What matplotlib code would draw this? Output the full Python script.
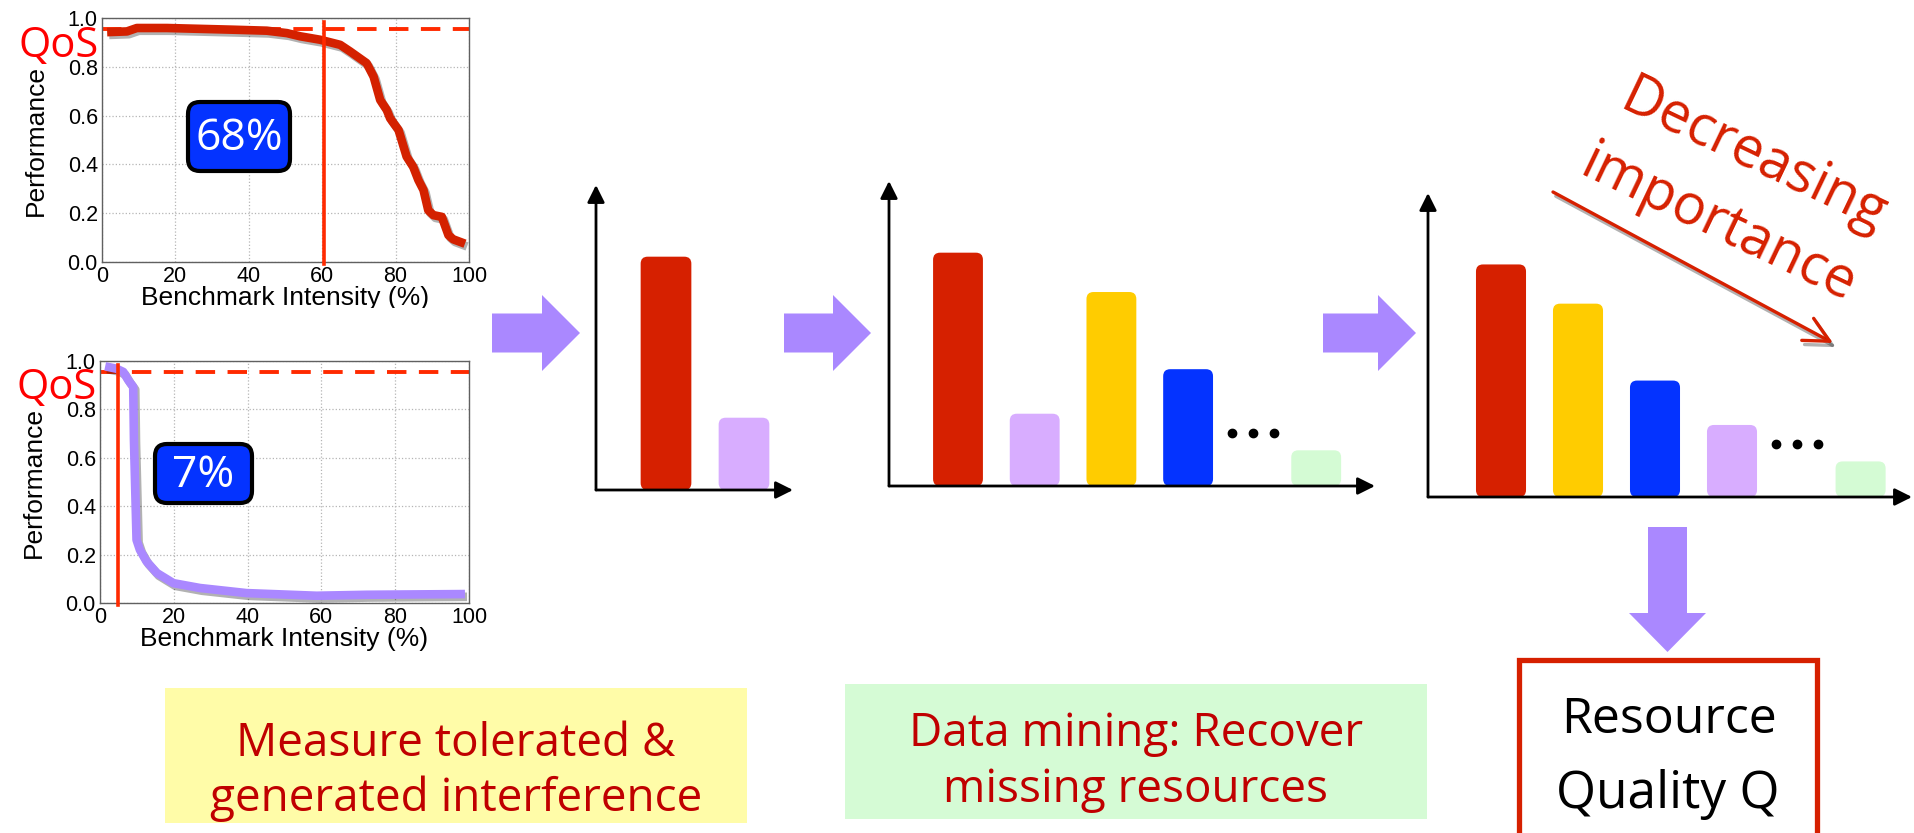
#!/usr/bin/env python3
"""Interference profiling -> resource importance ranking -> resource quality."""
import numpy as np
import matplotlib

matplotlib.use("Agg")
import matplotlib.pyplot as plt
from matplotlib import patheffects as pe
from matplotlib.patches import FancyBboxPatch, Polygon, Rectangle
from matplotlib.transforms import Bbox, TransformedBbox

W, H = 1915, 833

# sensitivity curve: tolerated interference
tolerated_x = [1.4, 6.8, 9.5, 17.7, 35.8, 44.9, 50.4, 54.0, 59.4, 64.9, 67.6, 72.1,
               74.0, 75.8, 77.6, 78.5, 80.8, 83.0, 84.8, 86.2, 87.6, 88.9, 90.3,
               92.6, 94.4, 95.7, 98.9]
tolerated_y = [0.942, 0.945, 0.959, 0.959, 0.952, 0.948, 0.938, 0.925, 0.911, 0.890,
               0.863, 0.815, 0.760, 0.664, 0.623, 0.589, 0.541, 0.432, 0.390, 0.336,
               0.295, 0.212, 0.192, 0.185, 0.110, 0.093, 0.075]

# sensitivity curve: generated interference
generated_x = [1.4, 4.5, 6.3, 7.7, 9.0, 9.2, 9.9, 10.8, 12.6, 15.4, 19.9, 27.1, 39.7,
               58.7, 72.3, 98.9]
generated_y = [0.978, 0.968, 0.955, 0.920, 0.893, 0.673, 0.261, 0.220, 0.172, 0.124,
               0.082, 0.062, 0.041, 0.030, 0.034, 0.037]

qos_level = 0.955
tolerated_cut = 60.5
generated_cut = 5.0
tolerated_label = "68%"
generated_label = "7%"

# resource importance (share of axis height, %)
RED = "#d62000"
LAVENDER = "#d8adff"
YELLOW = "#ffcc00"
BLUE = "#0433ff"
MINT = "#d4fbd4"

sampled_vals = [76.5, 23.7]
sampled_cols = [RED, LAVENDER]
recovered_vals = [76.5, 23.7, 63.6, 38.3, 11.7]
recovered_cols = [RED, LAVENDER, YELLOW, BLUE, MINT]
order = np.argsort(recovered_vals)[::-1]
ranked_vals = [recovered_vals[i] for i in order]
ranked_cols = [recovered_cols[i] for i in order]

SLOTS = [0, 1, 2, 3, 4.67]
DOTS_X = [3.57, 3.85, 4.12]
DOTS_Y = 17.5
BAR_W = 0.65

QOS_RED = "#ff2a00"
CURVE_RED = "#d42100"
PURPLE = "#aa88ff"
TEXT_RED = "#c00000"
GEO = ["Open Sans", "DejaVu Sans"]
HELV = ["Liberation Sans", "DejaVu Sans"]

fig = plt.figure(figsize=(W / 100, H / 100), dpi=100)


def px_rect(x0, y0, x1, y1):
    # pixel box with top-left origin -> figure fraction rect
    return [x0 / W, 1 - y1 / H, (x1 - x0) / W, (y1 - y0) / H]


def perf_panel(box, xs, ys, color, cut, cut_top, label_clip):
    ax = fig.add_axes(px_rect(*box))
    ax.plot([0, 100], [qos_level, qos_level], color=QOS_RED, lw=2.8,
            dashes=(5.0, 3.2), zorder=2)
    ax.plot(xs, ys, color=color, lw=6.2, solid_joinstyle="round",
            solid_capstyle="butt", zorder=3,
            path_effects=[pe.SimpleLineShadow(offset=(1.5, -2), shadow_color="k", alpha=0.3),
                          pe.Normal()])
    ax.plot([cut, cut], [-0.01, cut_top], color=QOS_RED, lw=2.6, zorder=4, clip_on=False)
    ax.set_xlim(0, 100)
    ax.set_ylim(0, 1)
    ax.set_xticks(range(0, 101, 20))
    yt = np.arange(0, 1.01, 0.2)
    ax.set_yticks(yt)
    ax.set_yticklabels([f"{v:.1f}" for v in yt])
    ax.grid(True, ls=":", color="#b5b5b5", lw=0.9)
    ax.tick_params(labelsize=15.5, length=0, pad=3)
    for t in ax.get_xticklabels() + ax.get_yticklabels():
        t.set_family(HELV)
    for s in ax.spines.values():
        s.set_color("#606060")
        s.set_linewidth(1.0)
    ax.set_xlabel("Benchmark Intensity (%)", fontsize=19, family=HELV)
    ax.set_ylabel("Performance", fontsize=19, family=HELV)
    ax.yaxis.set_label_coords(-0.147, 0.5)
    ax.xaxis.set_label_coords(0.5, -0.1)
    # the label sits right on the lower edge of the panel
    clip = TransformedBbox(Bbox.from_extents(0, 1 - label_clip / H, 1, 1), fig.transFigure)
    ax.xaxis.label.set_clip_box(clip)
    ax.xaxis.label.set_clip_on(True)
    return ax


def bar_panel(box, first_px, slot_px, vals, cols, dots):
    x0, y0, x1, y1 = box
    ax = fig.add_axes(px_rect(*box))
    ax.set_xlim(-first_px / slot_px, (x1 - x0 - first_px) / slot_px)
    ax.set_ylim(0, 100)
    ax.axis("off")
    bars = ax.bar(SLOTS[:len(vals)], vals, width=BAR_W, color=cols)
    xupp = (ax.get_xlim()[1] - ax.get_xlim()[0]) / (x1 - x0)
    yupp = 100 / (y1 - y0)
    for b in bars:
        b.set_visible(False)
        ax.add_patch(FancyBboxPatch((b.get_x(), b.get_y()), b.get_width(), b.get_height(),
                                    boxstyle=f"round,pad=0,rounding_size={7 * xupp}",
                                    mutation_aspect=yupp / xupp,
                                    fc=b.get_facecolor(), ec="none"))
    if dots:
        ax.plot(DOTS_X, [DOTS_Y] * len(DOTS_X), "o", color="black", ms=6, clip_on=False)
    arrow = dict(arrowstyle="-|>", lw=2, color="black", mutation_scale=26,
                 shrinkA=0, shrinkB=0)
    ax.annotate("", xy=(0, 1), xytext=(0, 0), xycoords="axes fraction", arrowprops=arrow)
    ax.annotate("", xy=(1, 0), xytext=(0, 0), xycoords="axes fraction", arrowprops=arrow)
    return ax


perf_panel((102, 18, 469, 262), tolerated_x, tolerated_y, CURVE_RED, tolerated_cut, 0.985, 308)
perf_panel((100, 361, 469, 603), generated_x, generated_y, PURPLE, generated_cut, 0.985, 652)

bar_panel((596, 185, 793, 490), 70, 78, sampled_vals, sampled_cols, False)
bar_panel((889, 181, 1375, 486), 69, 76.7, recovered_vals, recovered_cols, True)
bar_panel((1428, 193, 1912, 497), 73, 77, ranked_vals, ranked_cols, True)

# overlay in pixel coordinates for the flow diagram
ov = fig.add_axes([0, 0, 1, 1], zorder=10)
ov.set_xlim(0, W)
ov.set_ylim(H, 0)
ov.axis("off")
ov.patch.set_alpha(0)

# QoS markers
ov.text(19, 57, "QoS", color="#ff0000", fontsize=30, family=GEO, ha="left", va="baseline")
ov.text(17, 399, "QoS", color="#ff0000", fontsize=30, family=GEO, ha="left", va="baseline")

# percentage badges
for (bx, by, bw, bh), lab in [((188, 102, 102, 69), tolerated_label),
                              ((155, 444, 97, 59), generated_label)]:
    ov.add_patch(FancyBboxPatch((bx, by), bw, bh, boxstyle="round,pad=0,rounding_size=12",
                                fc=BLUE, ec="black", lw=3))
    ov.text(bx + bw / 2, by + bh / 2 + 2, lab, color="white", fontsize=32, family=GEO,
            ha="center", va="center")


def right_arrow(x_tail, x_neck, x_tip, yc, sh=19.5, hh=38):
    pts = [(x_tail, yc - sh), (x_neck, yc - sh), (x_neck, yc - hh), (x_tip, yc),
           (x_neck, yc + hh), (x_neck, yc + sh), (x_tail, yc + sh)]
    ov.add_patch(Polygon(pts, closed=True, fc=PURPLE, ec="none"))


right_arrow(492, 542, 580, 333)
right_arrow(784, 833, 871, 333)
right_arrow(1323, 1378, 1416, 333)

# down arrow into the result box
xc, sh, hh = 1667.5, 19.5, 38.5
ov.add_patch(Polygon([(xc - sh, 527), (xc + sh, 527), (xc + sh, 613), (xc + hh, 613),
                      (xc, 652), (xc - hh, 613), (xc - sh, 613)], closed=True,
                     fc=PURPLE, ec="none"))

# decreasing importance annotation
ov.annotate("", xy=(1833, 343), xytext=(1553, 192),
            arrowprops=dict(arrowstyle="->,head_length=0.9,head_width=0.45", lw=2.4,
                            color=RED, shrinkA=0, shrinkB=0, mutation_scale=20,
                            path_effects=[pe.SimpleLineShadow(offset=(2, -3), alpha=0.3),
                                          pe.Normal()]))
ov.text(1747, 170, "Decreasing", rotation=-25.5, rotation_mode="anchor", color=RED,
        fontsize=40, family=GEO, ha="center", va="baseline")
ov.text(1712, 238, "importance", rotation=-25.5, rotation_mode="anchor", color=RED,
        fontsize=40, family=GEO, ha="center", va="baseline")

# step captions
ov.add_patch(Rectangle((165, 688), 582, 135, fc="#fffca8", ec="none"))
ov.text(456, 756, "Measure tolerated &", color=TEXT_RED, fontsize=33, family=GEO,
        ha="center", va="baseline")
ov.text(456, 811, "generated interference", color=TEXT_RED, fontsize=33, family=GEO,
        ha="center", va="baseline")

ov.add_patch(Rectangle((845, 684), 582, 135, fc="#d5fbd5", ec="none"))
ov.text(1136, 746, "Data mining: Recover", color=TEXT_RED, fontsize=33, family=GEO,
        ha="center", va="baseline")
ov.text(1136, 802, "missing resources", color=TEXT_RED, fontsize=33, family=GEO,
        ha="center", va="baseline")

ov.add_patch(Rectangle((1519.5, 659.5), 298, 220, fc="white", ec=RED, lw=3.8))
ov.text(1669, 733, "Resource", color="black", fontsize=36, family=GEO,
        ha="center", va="baseline")
ov.text(1668, 808, "Quality Q", color="black", fontsize=37, family=GEO,
        ha="center", va="baseline")

fig.savefig("out.png", dpi=100)
